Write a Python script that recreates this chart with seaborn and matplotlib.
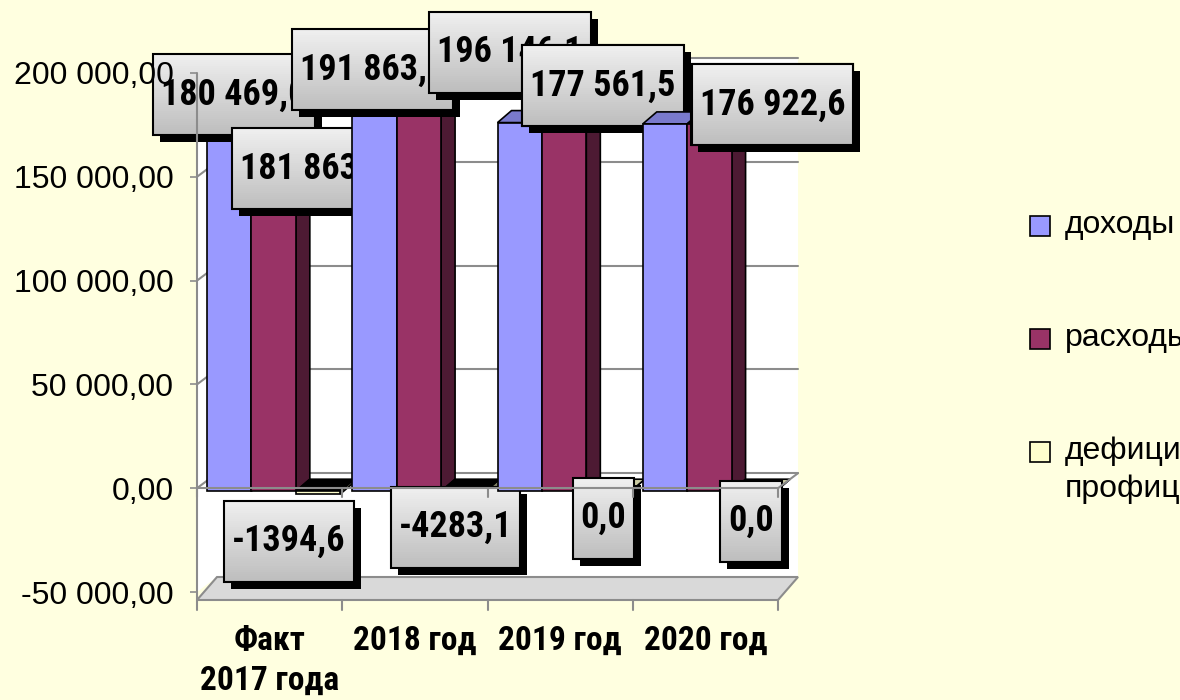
import numpy as np
import pandas as pd
import matplotlib
matplotlib.use("Agg")
import matplotlib.pyplot as plt
import seaborn as sns
from matplotlib import font_manager
from matplotlib.ft2font import FT2Font
from matplotlib.patches import Polygon, Rectangle, Patch
from matplotlib.lines import Line2D
from matplotlib.legend_handler import HandlerPatch
from matplotlib.transforms import IdentityTransform, Affine2D
from matplotlib.colors import to_rgb

# data
categories = ["Факт\n2017 года", "2018 год", "2019 год", "2020 год"]
series = ["доходы", "расходы", "дефицит(-)/\nпрофицит(+)"]
income = [180469.0, 191863.0, 177561.5, 176922.6]
expenses = [181863.6, 196146.1, 177561.5, 176922.6]
balance = [-1394.6, -4283.1, 0.0, 0.0]
y_ticks = [-50000, 0, 50000, 100000, 150000, 200000]

colors = ["#9999FF", "#993366", "#FFFFCC"]

# label centre offsets from the bar's front top corner, px (right, down)
label_offsets = [
    [(5, -22), (39, 55), (-29, 50)],
    [(-2, -23), (91, -32), (-8, 36)],
    [(83, -37), (39, -37), (-5, 27)],
    [(107, -19), (63, -19), (-3, 30)],
]

W, H = 1180, 700
WALL = np.array([20, 15])       # depth of the box, px
BAR_SHIFT = np.array([4, -3])   # bars sit a bit inside the box
BAR_DEPTH = np.array([14, 12])
GRID = "#8C8C8C"
TOP = 100                       # axes lines and tick labels sit over the label boxes

sns.set_theme(style="white")
names = {f.name for f in font_manager.fontManager.ttflist}


def has_cyr(name):
    try:
        path = font_manager.findfont(font_manager.FontProperties(family=name, weight="bold"),
                                     fallback_to_default=False)
        return 0x424 in FT2Font(path).get_charmap()
    except Exception:
        return False


wanted = ["Arial Narrow", "Liberation Sans Narrow", "Roboto Condensed", "PT Sans Narrow",
          "Fira Sans Condensed", "IBM Plex Sans Condensed"]
narrow_cands = [n for n in wanted if n in names and has_cyr(n)]
narrow = narrow_cands[0] if narrow_cands else "Liberation Sans"
plt.rcParams["font.family"] = ["Liberation Sans", "DejaVu Sans"]
plt.rcParams["text.color"] = "black"
plt.rcParams["xtick.color"] = "black"
plt.rcParams["ytick.color"] = "black"

df = pd.DataFrame({"category": categories, series[0]: income,
                   series[1]: expenses, series[2]: balance})
long = df.melt(id_vars="category", var_name="series", value_name="value")

fig = plt.figure(figsize=(W / 100, H / 100), dpi=100)
fig.patch.set_facecolor("#FFFFE0")
ax = fig.add_axes([197 / W, (H - 592) / H, 581 / W, 519 / H])
ax.set_facecolor("none")

sns.barplot(data=long, x="category", y="value", hue="series", order=categories,
            hue_order=series, palette=colors, width=0.917, saturation=1,
            edgecolor="black", linewidth=1.2, legend=False, ax=ax)
ax.set_xlim(-0.5, 3.5)
ax.set_ylim(-50000, 200000)
for s in ax.spines.values():
    s.set_visible(False)
ax.set_xlabel("")
ax.set_ylabel("")

ident = IdentityTransform()


def P(x, y):
    return ax.transData.transform((x, y))


def poly(pts, fc, ec="black", lw=1.2, z=1):
    ax.add_patch(Polygon(pts, closed=True, facecolor=fc, edgecolor=ec, linewidth=lw,
                         transform=ident, zorder=z, clip_on=False))


def line(p0, p1, z=1.5, color=GRID, lw=1.5):
    ax.add_line(Line2D([p0[0], p1[0]], [p0[1], p1[1]], color=color, lw=lw,
                       transform=ident, zorder=z, clip_on=False))


# walls and floor
lo, hi = y_ticks[0], y_ticks[-1]
drop = np.array([0, -8])
poly([P(-0.5, lo) + WALL, P(3.5, lo) + WALL, P(3.5, hi) + WALL, P(-0.5, hi) + WALL],
     "white", ec="none", z=0.2)
poly([P(-0.5, lo), P(-0.5, lo) + WALL, P(-0.5, hi) + WALL, P(-0.5, hi)],
     "white", ec="none", z=0.2)
poly([P(-0.5, lo) + drop, P(3.5, lo) + drop, P(3.5, lo) + WALL, P(-0.5, lo) + WALL],
     "#D9D9D9", ec=GRID, lw=1.5, z=0.4)
for t in y_ticks[1:]:
    line(P(-0.5, t) + WALL, P(3.5, t) + WALL, z=0.5)
    line(P(-0.5, t), P(-0.5, t) + WALL, z=0.5)
line(P(-0.5, 0), P(3.5, 0), z=TOP)
line(P(3.5, 0), P(3.5, 0) + WALL, z=TOP)
line(P(-0.5, hi), P(-0.5, lo) + drop, z=TOP)
for b in np.arange(-0.5, 4, 1.0):
    line(P(b, 0), P(b, 0) + [0, -9], z=TOP)
    line(P(b, lo) + drop, P(b, lo) + drop + [0, -10], z=TOP)


def shade(c, f):
    return tuple(np.array(to_rgb(c)) * f)


def fmt(v, grouped):
    s = f"{v:,.1f}" if grouped else f"{v:.1f}"
    return s.replace(",", " ").replace(".", ",")


renderer = fig.canvas.get_renderer()


def boxed_label(cx, cy, text, z):
    t = ax.text(cx, cy, text, transform=ident, ha="center", va="center",
                fontsize=26, fontweight="bold", family=[narrow, "DejaVu Sans"],
                color="black", zorder=z + 0.5, clip_on=False)
    bb = t.get_window_extent(renderer)
    w, h = bb.width + 16, 81
    x0, y0 = cx - w / 2, cy - h / 2
    ax.add_patch(Rectangle((x0 + 7, y0 - 7), w, h, transform=ident, facecolor="black",
                           edgecolor="none", zorder=z, clip_on=False))
    n = 40
    for k in range(n):
        g = 0.74 + (0.94 - 0.74) * (k + 0.5) / n
        ax.add_patch(Rectangle((x0, y0 + h * k / n), w, h / n + 0.5, transform=ident,
                               facecolor=(g, g, g), edgecolor="none",
                               zorder=z + 0.1, clip_on=False))
    ax.add_patch(Rectangle((x0, y0), w, h, transform=ident, facecolor="none",
                           edgecolor="black", linewidth=1.5, zorder=z + 0.3, clip_on=False))


# 3-D faces for each bar, drawn category by category (left to right)
values = [income, expenses, balance]
for i in range(len(categories)):
    base = 10 + 10 * i
    for j in range(len(series)):
        bar = ax.containers[j][i]
        bar.set_transform(ax.transData + Affine2D().translate(*BAR_SHIFT))
        x0, x1 = bar.get_x(), bar.get_x() + bar.get_width()
        v = values[j][i]
        top = max(v, 0)
        a = P(x0, top) + BAR_SHIFT
        b = P(x1, top) + BAR_SHIFT
        c = P(x1, min(v, 0)) + BAR_SHIFT
        z = base + j
        poly([c, b, b + BAR_DEPTH, c + BAR_DEPTH], shade(colors[j], 0.5), z=z)
        top_fc = "black" if v < 0 else shade(colors[j], 0.8)
        poly([a, b, b + BAR_DEPTH, a + BAR_DEPTH], top_fc, z=z)
        bar.set_zorder(z + 0.5)
    for j in range(len(series)):
        bar = ax.containers[j][i]
        xc = bar.get_x() + bar.get_width() / 2
        v = values[j][i]
        p = P(xc, max(v, 0)) + BAR_SHIFT
        dx, dy = label_offsets[i][j]
        boxed_label(p[0] + dx, p[1] - dy, fmt(v, j < 2), base + 5 + j)

# axes text
ax.yaxis.set_zorder(TOP)
ax.set_yticks(y_ticks, [fmt(t, True).replace(",0", ",00") for t in y_ticks])
ax.tick_params(axis="y", length=5, width=1.2, color=GRID, pad=12, labelsize=23,
               left=True, labelcolor="black")
ax.set_xticks(range(len(categories)), categories)
ax.tick_params(axis="x", length=0, pad=24, labelcolor="black")
for lab in ax.get_xticklabels():
    lab.set_fontsize(24)
    lab.set_fontweight("bold")
    lab.set_family([narrow, "DejaVu Sans"])
    lab.set_linespacing(1.3)


def square(legend, orig_handle, xdescent, ydescent, width, height, fontsize):
    return Rectangle((-xdescent, -ydescent + (height - width) / 2), width, width)


handles = [Patch(facecolor=c, edgecolor="black", linewidth=1.2, label=s)
           for c, s in zip(colors, series)]
leg = fig.legend(handles=handles, loc="upper left",
                 bbox_to_anchor=(1030 / W, (H - 210) / H),
                 frameon=False, fontsize=23, handlelength=0.63, handleheight=1.15,
                 handletextpad=0.45, labelspacing=2.55, borderpad=0, borderaxespad=0,
                 handler_map={Patch: HandlerPatch(patch_func=square)}, labelcolor="black")
for col in leg._legend_handle_box.get_children():
    for item in col.get_children():
        item.align = "top"
for txt in leg.get_texts():
    txt.set_linespacing(1.35)

fig.savefig("out.png", dpi=100, facecolor=fig.get_facecolor())
